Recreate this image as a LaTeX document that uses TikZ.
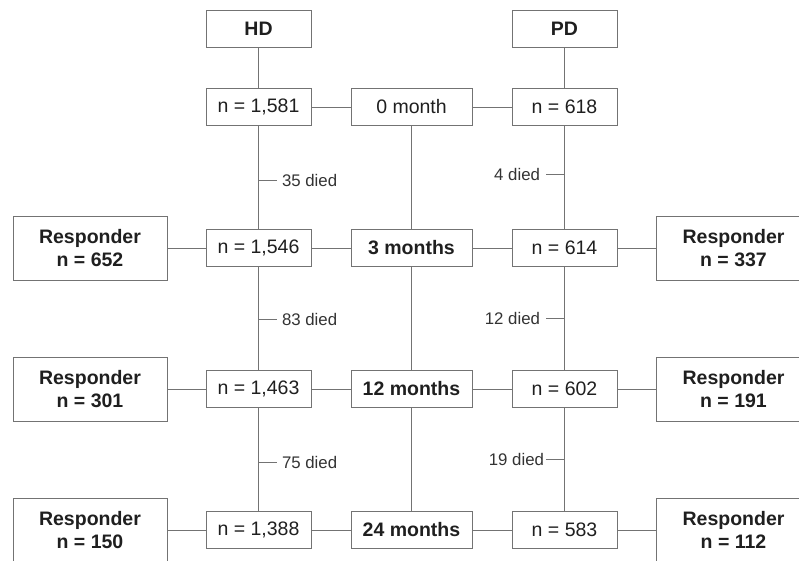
\documentclass[tikz,border=0pt]{standalone}
\usepackage{fontspec}
\setmainfont{Liberation Sans}
\usetikzlibrary{calc}

\begin{document}
\begin{tikzpicture}[x=1pt, y=-1pt, node distance=153pt,
                    every node/.style={font=\fontsize{19.5}{23}\selectfont, text=black!88},
                    main node/.style={rectangle,draw=black!55,line width=1pt,inner sep=0pt,
                                      minimum width=105pt,minimum height=37pt},
                    time node/.style={main node,minimum width=121pt,
                                      font=\fontsize{19.5}{23}\selectfont\bfseries},
                    resp node/.style={main node,minimum width=154pt,minimum height=64pt,align=center,
                                      font=\fontsize{19.5}{23}\selectfont\bfseries},
                    died/.style={font=\fontsize{16.8}{20}\selectfont,text=black!80,inner sep=5pt},
                    conn/.style={draw=black!55,line width=1pt}]

\useasboundingbox (0,0) rectangle (799,560);

\node[main node,minimum width=121pt] (1) at (411.5,107) {0 month};
  \node[main node] (2) [left of=1] {n = 1,581};
    \node[main node] (3) [right of=1] {n = 618};
      \node[main node,font=\fontsize{19.5}{23}\selectfont\bfseries] (4) [above of=2, node distance=78pt] {HD};
        \node[main node,font=\fontsize{19.5}{23}\selectfont\bfseries] (5) [above of=3, node distance=78pt] {PD};

\node[time node] (6) [below of=1, node distance=141pt] {3 months};
  \node[main node] (7) [left of=6] {n = 1,546};
    \node[main node] (8) [right of=6] {n = 614};
      \node[resp node] (9) [left of=7, node distance=168.5pt] {Responder\\n = 652};
        \node[resp node] (10) [right of=8, node distance=169pt] {Responder\\n = 337};

\node[time node] (11) [below of=6, node distance=141pt] {12 months};
  \node[main node] (12) [left of=11] {n = 1,463};
    \node[main node] (13) [right of=11] {n = 602};
      \node[resp node] (14) [left of=12, node distance=168.5pt] {Responder\\n = 301};
        \node[resp node] (15) [right of=13, node distance=169pt] {Responder\\n = 191};

\node[time node] (16) [below of=11, node distance=141pt] {24 months};
  \node[main node] (17) [left of=16] {n = 1,388};
    \node[main node] (18) [right of=16] {n = 583};
      \node[resp node] (19) [left of=17, node distance=168.5pt] {Responder\\n = 150};
        \node[resp node] (20) [right of=18, node distance=169pt] {Responder\\n = 112};

% vertical links
\draw[conn] (4) -- (2) -- (7) -- (12) -- (17);
\draw[conn] (1) -- (6) -- (11) -- (16);
\draw[conn] (5) -- (3) -- (8) -- (13) -- (18);

% horizontal links
\draw[conn] (2) -- (1) -- (3);
\draw[conn] (9) -- (7) -- (6) -- (8) -- (10);
\draw[conn] (14) -- (12) -- (11) -- (13) -- (15);
\draw[conn] (19) -- (17) -- (16) -- (18) -- (20);

% deaths
\coordinate (d1) at ($(2)!0.52!(7)$);
\coordinate (d2) at ($(7)!0.51!(12)$);
\coordinate (d3) at ($(12)!0.52!(17)$);
\coordinate (d4) at ($(3)!0.48!(8)$);
\coordinate (d5) at ($(8)!0.5!(13)$);
\coordinate (d6) at ($(13)!0.5!(18)$);
\draw[conn] (d1) -- ++(18,0) node[died,right] {35 died};
\draw[conn] (d2) -- ++(18,0) node[died,right] {83 died};
\draw[conn] (d3) -- ++(18,0) node[died,right] {75 died};
\draw[conn] (d4) -- ++(-19,0) node[died,left] {4 died};
\draw[conn] (d5) -- ++(-19,0) node[died,left] {12 died};
\draw[conn] (d6) -- ++(-19,0) node[died,left,inner sep=1pt] {19 died};

\end{tikzpicture}
\end{document}
